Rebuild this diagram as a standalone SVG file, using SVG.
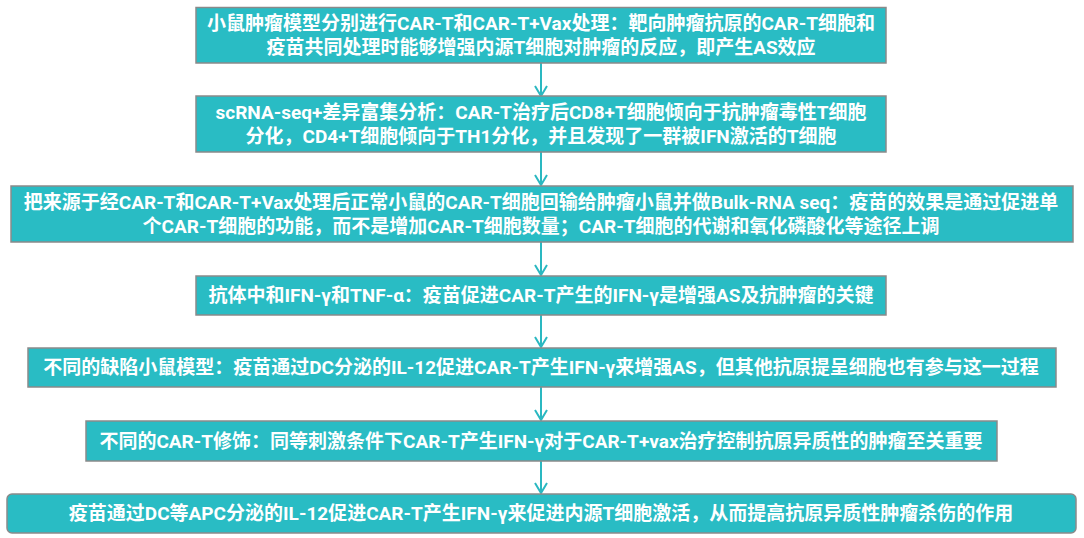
<svg xmlns="http://www.w3.org/2000/svg" width="1084" height="538" viewBox="0 0 1084 538">
<defs>
<style>
.box{fill:#29BCC4;stroke:#8A8A8A;stroke-width:1.5}
.t{fill:#FFFFFF;font-family:Roboto,"Noto Sans CJK SC",sans-serif;font-weight:bold;font-size:19px;text-anchor:middle;dominant-baseline:central}
.c{stroke:#2AB8C1;stroke-width:2;fill:none}
</style>
</defs>
<rect width="1084" height="538" fill="#FFFFFF"/>
<g id="connectors">
<line class="c" x1="541" y1="63" x2="541" y2="96"/>
<path class="c" d="M535 86 L541 96 L547 86"/>
<line class="c" x1="541" y1="152" x2="541" y2="185"/>
<path class="c" d="M535 175 L541 185 L547 175"/>
<line class="c" x1="541" y1="242" x2="541" y2="275"/>
<path class="c" d="M535 265 L541 275 L547 265"/>
<line class="c" x1="541" y1="315" x2="541" y2="347"/>
<path class="c" d="M535 337 L541 347 L547 337"/>
<line class="c" x1="541" y1="387" x2="541" y2="420"/>
<path class="c" d="M535 410 L541 420 L547 410"/>
<line class="c" x1="541" y1="461" x2="541" y2="493"/>
<path class="c" d="M535 483 L541 493 L547 483"/>
</g>
<g id="node1">
<rect class="box" x="196" y="7.5" width="690" height="55.5"/>
<text class="t" x="541" y="23"><tspan x="541" y="23">小鼠肿瘤模型分别进行CAR-T和CAR-T+Vax处理：靶向肿瘤抗原的CAR-T细胞和</tspan><tspan x="541" y="47">疫苗共同处理时能够增强内源T细胞对肿瘤的反应，即产生AS效应</tspan></text>
</g>
<g id="node2">
<rect class="box" x="196" y="96" width="690" height="56"/>
<text class="t" x="541" y="112"><tspan x="541" y="112">scRNA-seq+差异富集分析：CAR-T治疗后CD8+T细胞倾向于抗肿瘤毒性T细胞</tspan><tspan x="541" y="136">分化，CD4+T细胞倾向于TH1分化，并且发现了一群被IFN激活的T细胞</tspan></text>
</g>
<g id="node3">
<rect class="box" x="11" y="186" width="1062" height="56"/>
<text class="t" x="541" y="202"><tspan x="541" y="202">把来源于经CAR-T和CAR-T+Vax处理后正常小鼠的CAR-T细胞回输给肿瘤小鼠并做Bulk-RNA seq：疫苗的效果是通过促进单</tspan><tspan x="541" y="226">个CAR-T细胞的功能，而不是增加CAR-T细胞数量；CAR-T细胞的代谢和氧化磷酸化等途径上调</tspan></text>
</g>
<g id="node4">
<rect class="box" x="196" y="276" width="690" height="39"/>
<text class="t" x="541" y="295.5">抗体中和IFN-γ和TNF-α：疫苗促进CAR-T产生的IFN-γ是增强AS及抗肿瘤的关键</text>
</g>
<g id="node5">
<rect class="box" x="28" y="348" width="1028" height="39"/>
<text class="t" x="541" y="367.5">不同的缺陷小鼠模型：疫苗通过DC分泌的IL-12促进CAR-T产生IFN-γ来增强AS，但其他抗原提呈细胞也有参与这一过程</text>
</g>
<g id="node6">
<rect class="box" x="86" y="421" width="911" height="40"/>
<text class="t" x="541" y="441">不同的CAR-T修饰：同等刺激条件下CAR-T产生IFN-γ对于CAR-T+vax治疗控制抗原异质性的肿瘤至关重要</text>
</g>
<g id="node7">
<rect class="box" x="7" y="494" width="1069" height="39" rx="5" ry="5"/>
<text class="t" x="541" y="513.5">疫苗通过DC等APC分泌的IL-12促进CAR-T产生IFN-γ来促进内源T细胞激活，从而提高抗原异质性肿瘤杀伤的作用</text>
</g>
</svg>
